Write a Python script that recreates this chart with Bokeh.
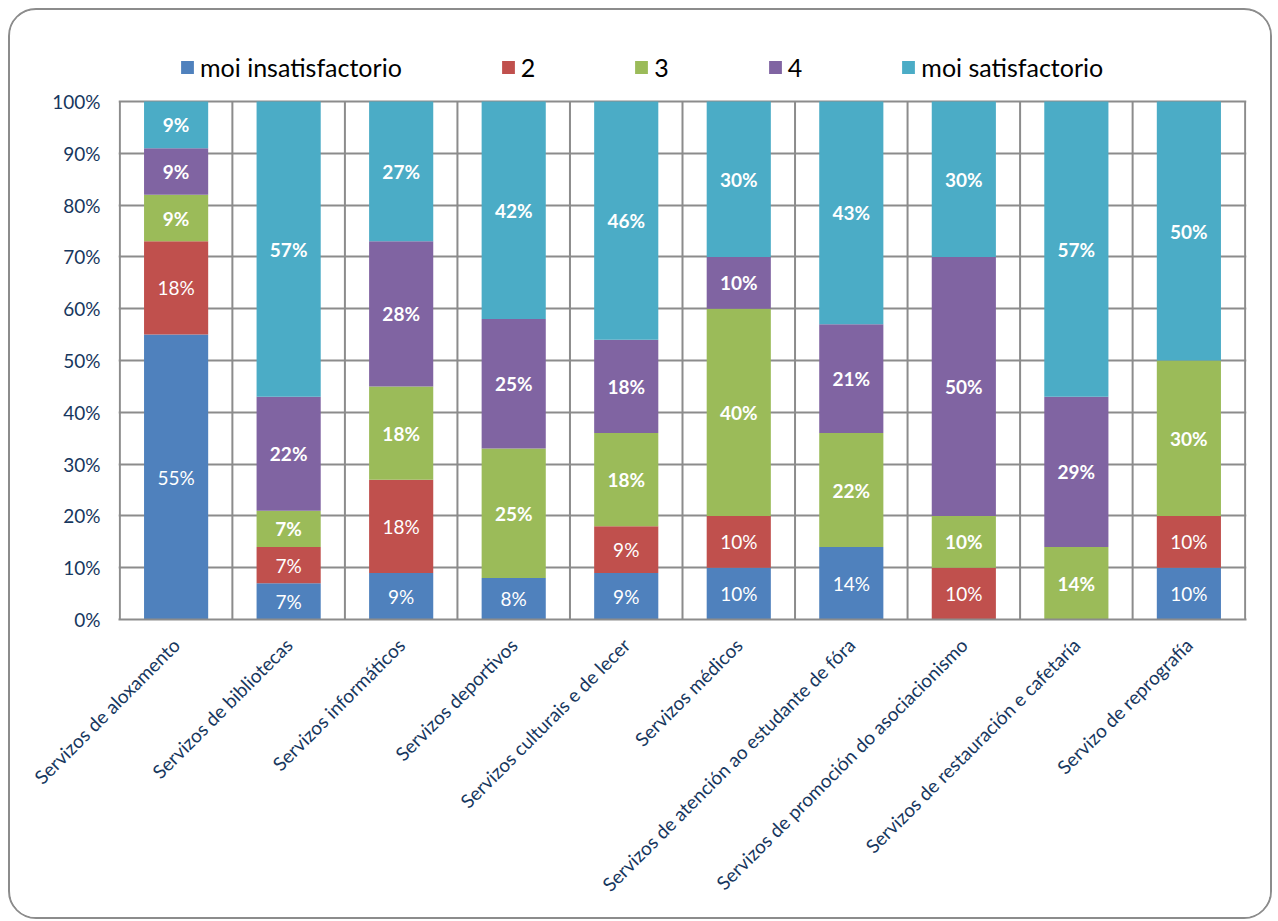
from math import pi
from bokeh.plotting import figure
from bokeh.models import ColumnDataSource, FixedTicker, NumeralTickFormatter, Range1d
from bokeh.core.properties import value
from bokeh.embed import file_html
from bokeh.resources import INLINE

categories = [
    "Servizos de aloxamento",
    "Servizos de bibliotecas",
    "Servizos informáticos",
    "Servizos deportivos",
    "Servizos culturais e de lecer",
    "Servizos médicos",
    "Servizos de atención ao estudante de fóra",
    "Servizos de promoción do asociacionismo",
    "Servizos de restauración e cafetaría",
    "Servizo de reprografía",
]
series_names = ["moi insatisfactorio", "2", "3", "4", "moi satisfactorio"]
s1 = [55, 7, 9, 8, 9, 10, 14, 0, 0, 10]
s2 = [18, 7, 18, 0, 9, 10, 0, 10, 0, 10]
s3 = [9, 7, 18, 25, 18, 40, 22, 10, 14, 30]
s4 = [9, 22, 28, 25, 18, 10, 21, 50, 29, 0]
s5 = [9, 57, 27, 42, 46, 30, 43, 30, 57, 50]
y_ticks = [0, 0.1, 0.2, 0.3, 0.4, 0.5, 0.6, 0.7, 0.8, 0.9, 1.0]

colors = ["#4F81BD", "#C0504D", "#9BBB59", "#8064A2", "#4BACC6"]
label_styles = ["normal", "normal", "bold", "bold", "bold"]
FONT = "Lato"
AXIS_COLOR = "#17375E"
GRID = "#8C8C8C"

series = [s1, s2, s3, s4, s5]
n = len(categories)
xs = [i + 0.5 for i in range(n)]

data = {"x": xs}
keys = []
for k, s in enumerate(series):
    key = f"s{k}"
    keys.append(key)
    data[key] = [v / 100 for v in s]
source = ColumnDataSource(data)

# frame extends above 100% to hold the legend
p = figure(
    width=1264, height=911,
    x_range=Range1d(-0.012, n + 0.012), y_range=Range1d(0, 1.1178),
    output_backend="svg", toolbar_location=None,
    min_border_left=108, min_border_right=28, min_border_top=30, min_border_bottom=302,
)
p.margin = (8, 0, 0, 8)
p.styles = {"border": "2px solid #8C8C8C", "border-radius": "28px", "overflow": "hidden"}
p.outline_line_color = None
p.background_fill_color = "white"
p.border_fill_color = "white"

# grid: horizontal lines at ticks, vertical lines at category boundaries (0..100%)
p.xgrid.visible = False
p.ygrid.ticker = FixedTicker(ticks=y_ticks)
p.ygrid.grid_line_color = GRID
p.ygrid.grid_line_width = 2
bounds = list(range(n + 1))
p.segment(x0=bounds, x1=bounds, y0=[0] * len(bounds), y1=[1] * len(bounds),
          line_color=GRID, line_width=2)

renderers = p.vbar_stack(keys, x="x", width=0.57, color=colors, line_color=None,
                         source=source, legend_label=series_names)

# data labels
for k, s in enumerate(series):
    lx, ly, lt = [], [], []
    for i in range(n):
        if s[i] <= 0:
            continue
        base = sum(series[j][i] for j in range(k))
        lx.append(xs[i])
        ly.append((base + s[i] / 2) / 100)
        lt.append(f"{s[i]}%")
    p.text(x=lx, y=ly, text=lt, text_align="center", text_baseline="middle",
           text_color="white", text_font=value(FONT), text_font_size="19px",
           text_font_style=label_styles[k])

# axes
p.yaxis.ticker = FixedTicker(ticks=y_ticks)
p.yaxis.formatter = NumeralTickFormatter(format="0%")
p.xaxis.ticker = FixedTicker(ticks=xs)
p.xaxis.major_label_overrides = {x: c for x, c in zip(xs, categories)}
p.xaxis.major_label_orientation = pi / 4
for ax in (p.xaxis, p.yaxis):
    ax.major_tick_line_color = None
    ax.minor_tick_line_color = None
    ax.major_label_text_font = FONT
    ax.major_label_text_font_size = "19px"
    ax.major_label_text_color = AXIS_COLOR
p.xaxis.axis_line_color = GRID
p.xaxis.axis_line_width = 2
p.yaxis.axis_line_color = None
p.yaxis.major_label_standoff = 12
p.xaxis.major_label_standoff = 16

# legend
lg = p.legend[0]
lg.orientation = "horizontal"
lg.location = (61, 537)
lg.border_line_color = None
lg.background_fill_alpha = 0
lg.padding = 0
lg.margin = 0
lg.spacing = 98
lg.label_width = 0
lg.glyph_width = 16
lg.glyph_height = 16
lg.label_standoff = 5
lg.label_text_font = FONT
lg.label_text_font_size = "25px"
lg.label_text_color = "black"

open("out.html", "w").write(file_html(p, INLINE))
